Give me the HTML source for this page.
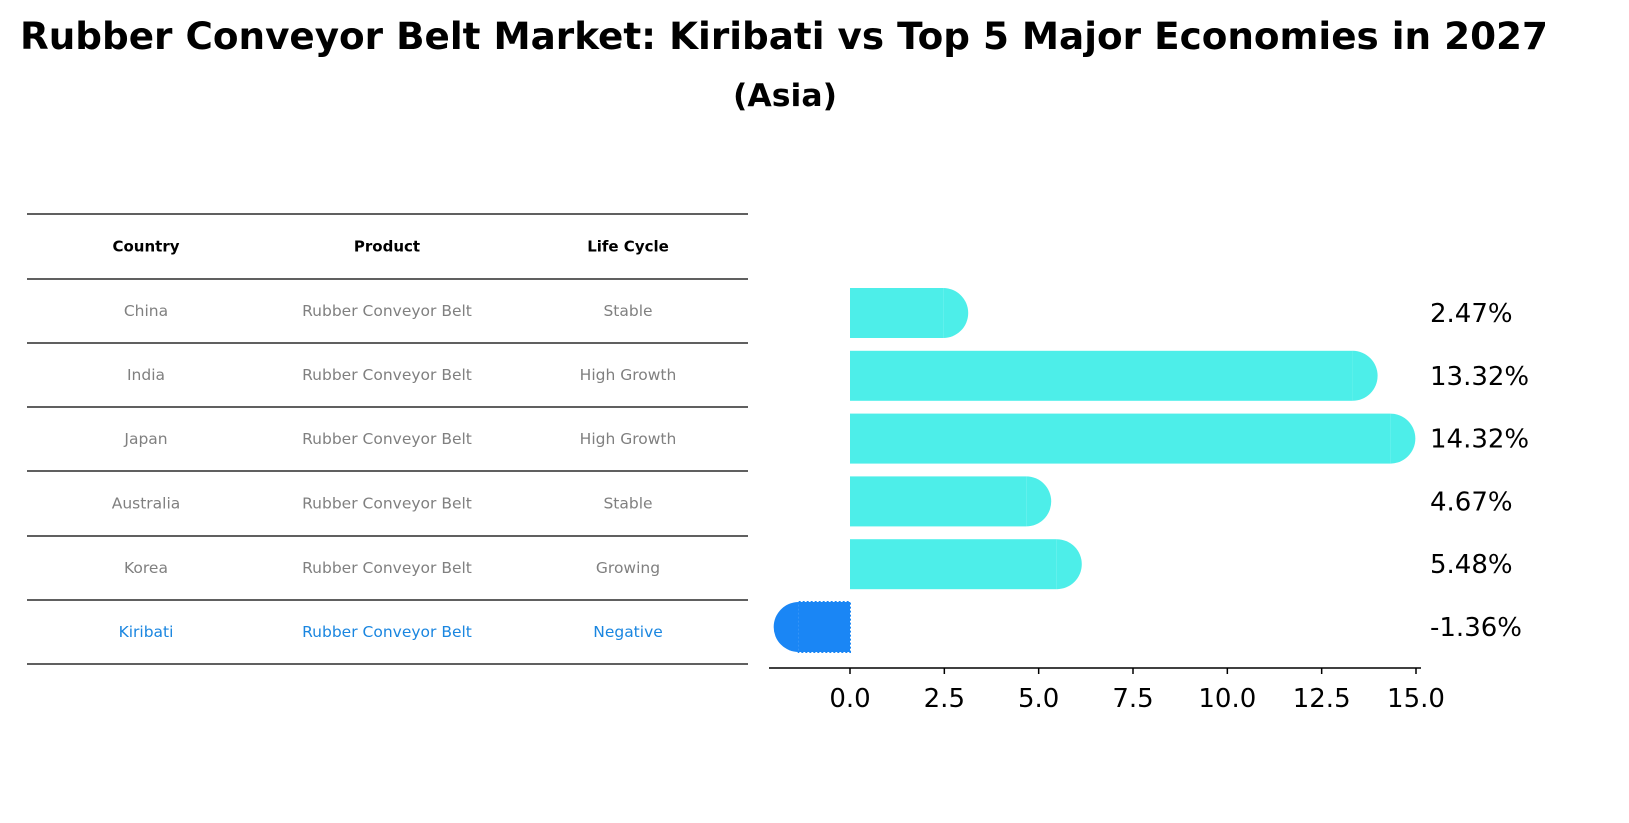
<!DOCTYPE html>
<html><head><meta charset="utf-8"><style>
body{margin:0;background:#fff;font-family:"Liberation Sans","DejaVu Sans",sans-serif;}
svg{display:block}
</style></head><body>
<svg id="chart" width="1629" height="823" xmlns="http://www.w3.org/2000/svg">
<text x="784" y="49" text-anchor="middle" font-size="37" font-weight="bold" textLength="1528" lengthAdjust="spacingAndGlyphs" font-family="DejaVu Sans, Liberation Sans, sans-serif">Rubber Conveyor Belt Market: Kiribati vs Top 5 Major Economies in 2027</text>
<text x="785" y="106" text-anchor="middle" font-size="31" font-weight="bold" textLength="104" lengthAdjust="spacingAndGlyphs" font-family="DejaVu Sans, Liberation Sans, sans-serif">(Asia)</text>
<g id="table"></g>
<g id="bars"></g>
</svg>
<script>
const countries=["China","India","Japan","Australia","Korea","Kiribati"];
const products=["Rubber Conveyor Belt","Rubber Conveyor Belt","Rubber Conveyor Belt","Rubber Conveyor Belt","Rubber Conveyor Belt","Rubber Conveyor Belt"];
const lifeCycles=["Stable","High Growth","High Growth","Stable","Growing","Negative"];
const values=[2.47,13.32,14.32,4.67,5.48,-1.36];
const ticks=[0,2.5,5,7.5,10,12.5,15];
const tickLabels=["0.0","2.5","5.0","7.5","10.0","12.5","15.0"];
const NS="http://www.w3.org/2000/svg";
function mk(tag,attrs,parent){const e=document.createElementNS(NS,tag);for(const k in attrs)e.setAttribute(k,attrs[k]);parent.appendChild(e);return e;}
const tg=document.getElementById('table');
const rowY=[214,279,343,407,471,536,600,664];
const colX=[146,387,628];
for(let i=0;i<rowY.length;i++){
  const l=mk('line',{x1:27,x2:748,y1:rowY[i],y2:rowY[i],stroke:'#000','stroke-width':1.2},tg);
  
  
}
const headers=["Country","Product","Life Cycle"];
headers.forEach((h,j)=>{
  const t=mk('text',{x:colX[j],y:(rowY[0]+rowY[1])/2+5,'text-anchor':'middle','font-size':15,'font-weight':'bold','font-family':'DejaVu Sans, sans-serif'},tg);
  t.textContent=h;
  
  
});
countries.forEach((c,i)=>{
  const cells=[c,products[i],lifeCycles[i]];
  const col=c==="Kiribati"?"#1a86e0":"#808080";
  cells.forEach((v,j)=>{
    const t=mk('text',{x:colX[j],y:(rowY[i+1]+rowY[i+2])/2+5,'text-anchor':'middle','font-size':15.5,fill:col,'font-family':'DejaVu Sans, sans-serif'},tg);
    t.textContent=v;
    
    
  });
});
const bg=document.getElementById('bars');
const x0=850,pxPer=(1416-850)/15;
const X=v=>x0+v*pxPer;
const yC=i=>313+i*62.8;
const h=50,r=25;
values.forEach((v,i)=>{
  const y=yC(i)-h/2;
  const neg=v<0;
  const col=neg?'#1a86f5':'#4deee9';
  const xs=Math.min(X(0),X(v)),xe=Math.max(X(0),X(v));
  const rect=mk('rect',{x:xs,y:y,width:xe-xs,height:h,fill:col},bg);
  
  
  if(neg){rect.setAttribute('stroke','#1a86f5');rect.setAttribute('stroke-dasharray','2 2');rect.setAttribute('stroke-width','2');}
  const cx=X(v);
  const cap=mk('path',{d:neg?`M${cx} ${y} A${r} ${r} 0 0 0 ${cx} ${y+h} Z`:`M${cx} ${y} A${r} ${r} 0 0 1 ${cx} ${y+h} Z`,fill:col},bg);
  
  
  const lbl=mk('text',{x:1430,y:yC(i)+9,'font-size':26,'font-family':'DejaVu Sans, sans-serif'},bg);
  lbl.textContent=v.toFixed(2)+'%';
  
  
});
const ax=mk('line',{x1:769,x2:1421,y1:668,y2:668,stroke:'#000','stroke-width':1.5},bg);


ticks.forEach((t,i)=>{
  const tk=mk('line',{x1:X(t),x2:X(t),y1:668,y2:674,stroke:'#000','stroke-width':1.5},bg);
  
  
  const tl=mk('text',{x:X(t),y:707,'text-anchor':'middle','font-size':26,'font-family':'DejaVu Sans, sans-serif'},bg);
  tl.textContent=tickLabels[i];
  
  
});
</script>
</body></html>
